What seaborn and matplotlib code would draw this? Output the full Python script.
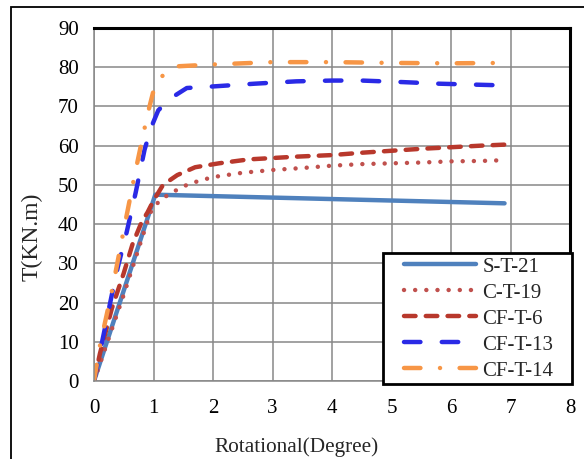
import numpy as np
import pandas as pd
import matplotlib.pyplot as plt
import seaborn as sns
from matplotlib.patches import Rectangle

# data
s_t21_x = [0, 1.03, 6.9]
s_t21_y = [0, 47.5, 45.3]

c_t19_x = [0, 0.5, 0.83, 0.95, 1.1, 1.3, 1.6, 2.0, 2.5, 3.0, 3.5, 4.0, 4.5, 5.0, 5.5, 6.0, 6.5, 6.9]
c_t19_y = [0, 22, 37.5, 43, 46, 48, 50.3, 52, 53.1, 53.8, 54.3, 54.9, 55.3, 55.5, 55.7, 56, 56.1, 56.3]

cf_t6_x = [0, 0.1, 0.3, 0.5, 0.65, 0.8, 0.9, 1.0, 1.16, 1.4, 1.7, 2.1, 2.6, 3.4, 4.0, 4.5, 5.0, 5.5, 6.0, 6.5, 6.95]
cf_t6_y = [0, 7, 18.5, 27.5, 35, 40.5, 43, 46, 50, 52.5, 54.5, 55.5, 56.5, 57.2, 57.6, 58.2, 58.7, 59.2, 59.6, 60, 60.3]

cf_t13_x = [0, 0.15, 0.3, 0.4, 0.55, 0.7, 0.85, 0.97, 1.08, 1.28, 1.56, 2.0, 2.7, 3.4, 4.0, 4.5, 5.2, 5.8, 6.8]
cf_t13_y = [0, 11, 22, 29, 38, 48, 59, 65, 69, 72, 74.7, 75.1, 75.8, 76.4, 76.6, 76.6, 76.2, 75.8, 75.4]

cf_t14_x = [0, 0.1, 0.31, 0.5, 0.69, 0.9, 1.0, 1.1, 1.36, 2.0, 3.0, 4.0, 5.0, 6.0, 6.9]
cf_t14_y = [0, 9, 23.6, 38.5, 53, 68, 74, 77.2, 80.2, 80.7, 81.3, 81.3, 81.1, 81.0, 81.1]

names = ["S-T-21", "C-T-19", "CF-T-6", "CF-T-13", "CF-T-14"]
xs = [s_t21_x, c_t19_x, cf_t6_x, cf_t13_x, cf_t14_x]
ys = [s_t21_y, c_t19_y, cf_t6_y, cf_t13_y, cf_t14_y]

colors = ["#4F81BD", "#C0504D", "#B8382C", "#2A2AE6", "#F79646"]
dashes = [None, (0.01, 2.5), (2.6, 2.3), (3.7, 4.8), (3.7, 4.4, 0.01, 4.4)]

sns.set_style("whitegrid")
plt.rcParams["font.family"] = ["Liberation Serif", "DejaVu Serif"]

fig = plt.figure(figsize=(5.84, 4.59), dpi=100)
ax = fig.add_axes([94 / 584, 1 - 381 / 459, (570 - 94) / 584, (381 - 28) / 459])

for name, x, y, c, d in zip(names, xs, ys, colors, dashes):
    sns.lineplot(x=x, y=y, ax=ax, color=c, linewidth=3.2, label=name,
                 sort=False, estimator=None)
    line = ax.lines[-1]
    line.set_solid_capstyle("round")
    line.set_dash_capstyle("round")
    if d is not None:
        line.set_dashes(d)

ax.set_xlim(0, 8)
ax.set_ylim(0, 90)
ax.set_xticks(range(0, 9))
ax.set_yticks(range(0, 91, 10))
ax.grid(True, color="#878787", linewidth=1.1)
ax.tick_params(axis="both", labelsize=15, colors="black", length=0)
ax.tick_params(axis="x", pad=13)
ax.tick_params(axis="y", pad=11)

for side in ["top", "right"]:
    ax.spines[side].set_color("black")
    ax.spines[side].set_linewidth(2.2)
for side in ["left", "bottom"]:
    ax.spines[side].set_color("#878787")
    ax.spines[side].set_linewidth(1.1)

ax.set_xlabel("Rotational(Degree)", fontsize=15.3)
ax.set_ylabel("T(KN.m)", fontsize=17)
ax.xaxis.set_label_coords(0.426, -0.16)
ax.yaxis.set_label_coords(-0.107, 0.408)

# legend box drawn separately so its padding matches the original
ax.add_patch(Rectangle((383 / 584, 1 - 384 / 459), (572 - 383) / 584, (384 - 253) / 459,
                       transform=fig.transFigure, facecolor="white", edgecolor="black",
                       linewidth=2, zorder=4.9, clip_on=False))
leg = ax.legend(loc="upper left", bbox_to_anchor=(404 / 584, 1 - 257 / 459),
                bbox_transform=fig.transFigure, fontsize=15, frameon=False,
                handlelength=3.45, handletextpad=0.3, labelspacing=0.31,
                borderpad=0, borderaxespad=0)

# outer frame around the chart
fig.patches.append(Rectangle((11 / 584, -0.05), 1.2, 1.05 - 7 / 459, transform=fig.transFigure,
                             fill=False, edgecolor="black", linewidth=1.3))

fig.savefig("out.png", dpi=100)
